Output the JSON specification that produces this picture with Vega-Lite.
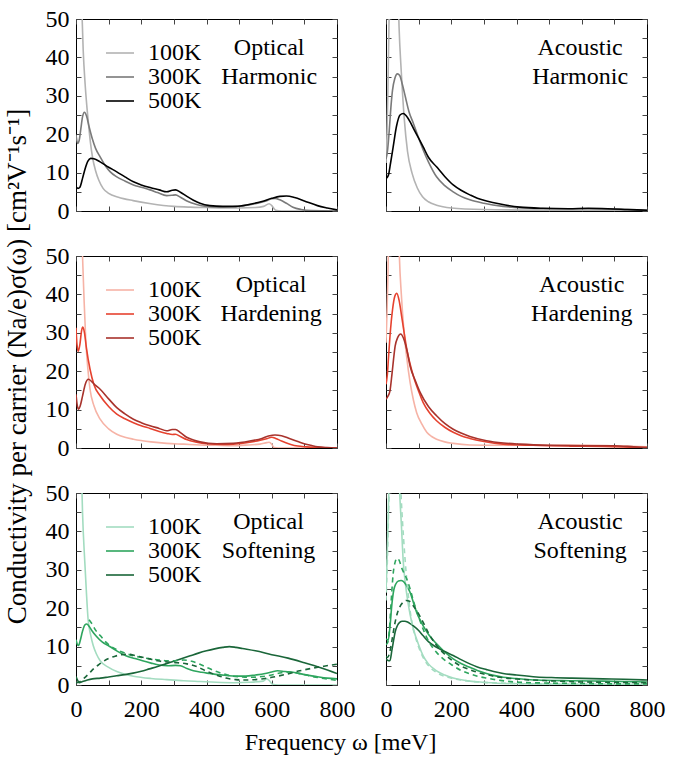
{
"$schema": "https://vega.github.io/schema/vega-lite/v6.json",
"padding": {"left": 2, "top": 6, "right": 0, "bottom": 0},
"background": "white",
"config": {
  "font": "Liberation Serif, Times New Roman, serif",
  "view": {"stroke": "#000", "strokeWidth": 1},
  "axis": {"grid": false, "domain": false, "tickSize": -5, "tickColor": "#444", "tickWidth": 1, "labelFont": "Liberation Serif, Times New Roman, serif", "labelFontSize": 24, "labelColor": "#000", "labelFlush": false, "labelOverlap": false, "titleFont": "Liberation Serif, Times New Roman, serif", "titleFontWeight": "normal", "titleColor": "#000", "titleFontSize": 24},
  "legend": {"orient": "none", "legendX": 32, "legendY": 22, "title": null, "symbolType": "M-2,0H2", "symbolSize": 196, "symbolStrokeWidth": 2, "labelFont": "Liberation Serif, Times New Roman, serif", "labelFontSize": 24, "labelColor": "#000", "labelOffset": 16, "rowPadding": 0, "padding": 0},
  "line": {"strokeWidth": 1.6, "interpolate": "monotone"},
  "text": {"font": "Liberation Serif, Times New Roman, serif", "fontSize": 24, "lineHeight": 29, "align": "center", "baseline": "alphabetic", "color": "#000"}
},
"datasets": {
"oh": [
{"T":"100K","x":0,"y":90},{"T":"100K","x":10,"y":80},{"T":"100K","x":17,"y":55},{"T":"100K","x":22,"y":42},{"T":"100K","x":28,"y":33},{"T":"100K","x":33,"y":27.5},{"T":"100K","x":38,"y":23},{"T":"100K","x":44,"y":18},{"T":"100K","x":51,"y":13.8},{"T":"100K","x":60,"y":10.5},{"T":"100K","x":70,"y":8},{"T":"100K","x":83,"y":5.9},{"T":"100K","x":100,"y":4.6},{"T":"100K","x":130,"y":3.6},{"T":"100K","x":175,"y":2.7},{"T":"100K","x":230,"y":1.9},{"T":"100K","x":300,"y":1.2},{"T":"100K","x":350,"y":1},{"T":"100K","x":400,"y":0.9},{"T":"100K","x":450,"y":0.8},{"T":"100K","x":500,"y":0.8},{"T":"100K","x":550,"y":0.9},{"T":"100K","x":575,"y":1.2},{"T":"100K","x":592,"y":1.9},{"T":"100K","x":600,"y":1.4},{"T":"100K","x":612,"y":0.2},{"T":"100K","x":630,"y":0},{"T":"100K","x":800,"y":0},
{"T":"300K","x":0,"y":19.8},{"T":"300K","x":5,"y":17.6},{"T":"300K","x":10,"y":18.5},{"T":"300K","x":15,"y":21.5},{"T":"300K","x":20,"y":24.5},{"T":"300K","x":26,"y":25.7},{"T":"300K","x":32,"y":24.8},{"T":"300K","x":40,"y":22},{"T":"300K","x":50,"y":18.8},{"T":"300K","x":60,"y":16.3},{"T":"300K","x":74,"y":14.1},{"T":"300K","x":90,"y":11.8},{"T":"300K","x":105,"y":10.2},{"T":"300K","x":125,"y":8.9},{"T":"300K","x":150,"y":7.8},{"T":"300K","x":176,"y":6.8},{"T":"300K","x":200,"y":6.2},{"T":"300K","x":227,"y":5.5},{"T":"300K","x":250,"y":4.8},{"T":"300K","x":278,"y":4},{"T":"300K","x":295,"y":4.1},{"T":"300K","x":305,"y":4.2},{"T":"300K","x":320,"y":3.6},{"T":"300K","x":340,"y":2.6},{"T":"300K","x":370,"y":1.7},{"T":"300K","x":400,"y":1.2},{"T":"300K","x":440,"y":1},{"T":"300K","x":480,"y":1.1},{"T":"300K","x":530,"y":1.6},{"T":"300K","x":560,"y":2.1},{"T":"300K","x":585,"y":2.7},{"T":"300K","x":600,"y":3.2},{"T":"300K","x":610,"y":3.3},{"T":"300K","x":625,"y":2.9},{"T":"300K","x":645,"y":2},{"T":"300K","x":665,"y":1},{"T":"300K","x":690,"y":0.4},{"T":"300K","x":720,"y":0.1},{"T":"300K","x":800,"y":0},
{"T":"500K","x":0,"y":6.3},{"T":"500K","x":6,"y":5.9},{"T":"500K","x":12,"y":6.2},{"T":"500K","x":20,"y":8.5},{"T":"500K","x":28,"y":11},{"T":"500K","x":36,"y":12.9},{"T":"500K","x":45,"y":13.7},{"T":"500K","x":55,"y":13.6},{"T":"500K","x":74,"y":12.8},{"T":"500K","x":100,"y":11.4},{"T":"500K","x":125,"y":10.2},{"T":"500K","x":150,"y":8.9},{"T":"500K","x":176,"y":7.6},{"T":"500K","x":200,"y":6.8},{"T":"500K","x":227,"y":6.1},{"T":"500K","x":255,"y":5.5},{"T":"500K","x":278,"y":5},{"T":"500K","x":295,"y":5.4},{"T":"500K","x":305,"y":5.5},{"T":"500K","x":320,"y":4.9},{"T":"500K","x":340,"y":3.8},{"T":"500K","x":360,"y":2.8},{"T":"500K","x":380,"y":2},{"T":"500K","x":410,"y":1.4},{"T":"500K","x":450,"y":1.2},{"T":"500K","x":490,"y":1.2},{"T":"500K","x":530,"y":1.7},{"T":"500K","x":570,"y":2.5},{"T":"500K","x":600,"y":3.3},{"T":"500K","x":625,"y":3.8},{"T":"500K","x":645,"y":3.9},{"T":"500K","x":670,"y":3.5},{"T":"500K","x":700,"y":2.6},{"T":"500K","x":740,"y":1.4},{"T":"500K","x":770,"y":0.8},{"T":"500K","x":800,"y":0.3}
],
"ah": [
{"T":"100K","x":0,"y":12.5},{"T":"100K","x":3,"y":20},{"T":"100K","x":6,"y":32},{"T":"100K","x":9,"y":48},{"T":"100K","x":12,"y":60},{"T":"100K","x":28,"y":80},{"T":"100K","x":36,"y":60},{"T":"100K","x":40,"y":48},{"T":"100K","x":47,"y":36},{"T":"100K","x":56,"y":24},{"T":"100K","x":66,"y":15.5},{"T":"100K","x":80,"y":9.8},{"T":"100K","x":96,"y":6},{"T":"100K","x":112,"y":3.7},{"T":"100K","x":130,"y":2.4},{"T":"100K","x":155,"y":1.5},{"T":"100K","x":200,"y":0.8},{"T":"100K","x":300,"y":0.4},{"T":"100K","x":500,"y":0.2},{"T":"100K","x":800,"y":0.1},
{"T":"300K","x":0,"y":13.5},{"T":"300K","x":5,"y":16},{"T":"300K","x":10,"y":21},{"T":"300K","x":15,"y":27},{"T":"300K","x":20,"y":31.5},{"T":"300K","x":27,"y":34.5},{"T":"300K","x":35,"y":35.7},{"T":"300K","x":42,"y":35.3},{"T":"300K","x":50,"y":33},{"T":"300K","x":60,"y":29.5},{"T":"300K","x":70,"y":26},{"T":"300K","x":84,"y":22.8},{"T":"300K","x":100,"y":19},{"T":"300K","x":114,"y":15.9},{"T":"300K","x":130,"y":12.8},{"T":"300K","x":155,"y":8.9},{"T":"300K","x":180,"y":6.6},{"T":"300K","x":206,"y":5},{"T":"300K","x":230,"y":3.8},{"T":"300K","x":257,"y":2.9},{"T":"300K","x":300,"y":2},{"T":"300K","x":359,"y":1.2},{"T":"300K","x":420,"y":0.8},{"T":"300K","x":500,"y":0.6},{"T":"300K","x":600,"y":0.6},{"T":"300K","x":700,"y":0.5},{"T":"300K","x":800,"y":0.2},
{"T":"500K","x":0,"y":8.5},{"T":"500K","x":4,"y":8.8},{"T":"500K","x":8,"y":9.5},{"T":"500K","x":14,"y":12.5},{"T":"500K","x":22,"y":16.7},{"T":"500K","x":32,"y":22},{"T":"500K","x":43,"y":25},{"T":"500K","x":53,"y":25.4},{"T":"500K","x":62,"y":24.8},{"T":"500K","x":74,"y":23.2},{"T":"500K","x":84,"y":21.5},{"T":"500K","x":100,"y":19},{"T":"500K","x":114,"y":16.7},{"T":"500K","x":130,"y":14},{"T":"500K","x":155,"y":11.5},{"T":"500K","x":180,"y":9},{"T":"500K","x":206,"y":6.8},{"T":"500K","x":230,"y":5.4},{"T":"500K","x":257,"y":4.2},{"T":"500K","x":280,"y":3.3},{"T":"500K","x":308,"y":2.6},{"T":"500K","x":350,"y":1.8},{"T":"500K","x":410,"y":1},{"T":"500K","x":480,"y":0.7},{"T":"500K","x":560,"y":0.6},{"T":"500K","x":620,"y":0.7},{"T":"500K","x":680,"y":0.6},{"T":"500K","x":740,"y":0.4},{"T":"500K","x":800,"y":0.2}
],
"od": [
{"T":"100K","x":0,"y":90},{"T":"100K","x":10,"y":75},{"T":"100K","x":20,"y":50},{"T":"100K","x":25,"y":38},{"T":"100K","x":30,"y":28},{"T":"100K","x":36,"y":21},{"T":"100K","x":43,"y":15.3},{"T":"100K","x":55,"y":11},{"T":"100K","x":74,"y":7.5},{"T":"100K","x":100,"y":5},{"T":"100K","x":125,"y":3.6},{"T":"100K","x":150,"y":2.8},{"T":"100K","x":176,"y":2.3},{"T":"100K","x":230,"y":1.6},{"T":"100K","x":278,"y":1.2},{"T":"100K","x":330,"y":1},{"T":"100K","x":380,"y":0.8},{"T":"100K","x":430,"y":0.7},{"T":"100K","x":482,"y":0.6},{"T":"100K","x":530,"y":0.8},{"T":"100K","x":564,"y":1},{"T":"100K","x":585,"y":1.4},{"T":"100K","x":592,"y":1.5},{"T":"100K","x":600,"y":1},{"T":"100K","x":607,"y":0.1},{"T":"100K","x":620,"y":0},{"T":"100K","x":800,"y":0},
{"T":"300K","x":0,"y":31.3},{"T":"300K","x":3,"y":27},{"T":"300K","x":7,"y":25.2},{"T":"300K","x":12,"y":27},{"T":"300K","x":17,"y":30.5},{"T":"300K","x":21,"y":31.5},{"T":"300K","x":26,"y":30},{"T":"300K","x":32,"y":26},{"T":"300K","x":43,"y":20.5},{"T":"300K","x":55,"y":16.5},{"T":"300K","x":74,"y":13.6},{"T":"300K","x":100,"y":10.8},{"T":"300K","x":125,"y":8.8},{"T":"300K","x":150,"y":7.6},{"T":"300K","x":176,"y":6.6},{"T":"300K","x":200,"y":5.8},{"T":"300K","x":227,"y":5.1},{"T":"300K","x":255,"y":4.3},{"T":"300K","x":278,"y":3.8},{"T":"300K","x":295,"y":3.5},{"T":"300K","x":305,"y":3.6},{"T":"300K","x":320,"y":3},{"T":"300K","x":339,"y":2.2},{"T":"300K","x":370,"y":1.5},{"T":"300K","x":400,"y":1.1},{"T":"300K","x":450,"y":0.9},{"T":"300K","x":482,"y":1},{"T":"300K","x":533,"y":1.5},{"T":"300K","x":565,"y":2},{"T":"300K","x":584,"y":2.4},{"T":"300K","x":600,"y":2.8},{"T":"300K","x":612,"y":2.5},{"T":"300K","x":630,"y":1.8},{"T":"300K","x":656,"y":1},{"T":"300K","x":680,"y":0.5},{"T":"300K","x":707,"y":0.3},{"T":"300K","x":750,"y":0.1},{"T":"300K","x":800,"y":0},
{"T":"500K","x":0,"y":14},{"T":"500K","x":4,"y":11},{"T":"500K","x":8,"y":10.1},{"T":"500K","x":13,"y":11},{"T":"500K","x":20,"y":13.5},{"T":"500K","x":28,"y":16.5},{"T":"500K","x":38,"y":17.9},{"T":"500K","x":48,"y":17.3},{"T":"500K","x":60,"y":16.3},{"T":"500K","x":74,"y":15.3},{"T":"500K","x":100,"y":12.8},{"T":"500K","x":125,"y":10.5},{"T":"500K","x":150,"y":8.9},{"T":"500K","x":176,"y":7.5},{"T":"500K","x":200,"y":6.6},{"T":"500K","x":227,"y":5.8},{"T":"500K","x":255,"y":5.1},{"T":"500K","x":278,"y":4.5},{"T":"500K","x":295,"y":4.8},{"T":"500K","x":305,"y":4.8},{"T":"500K","x":320,"y":4},{"T":"500K","x":339,"y":2.8},{"T":"500K","x":360,"y":2.1},{"T":"500K","x":380,"y":1.6},{"T":"500K","x":431,"y":1.1},{"T":"500K","x":482,"y":1.2},{"T":"500K","x":533,"y":1.8},{"T":"500K","x":570,"y":2.5},{"T":"500K","x":590,"y":3.1},{"T":"500K","x":610,"y":3.4},{"T":"500K","x":630,"y":3.2},{"T":"500K","x":656,"y":2.4},{"T":"500K","x":680,"y":1.7},{"T":"500K","x":697,"y":1.2},{"T":"500K","x":720,"y":0.7},{"T":"500K","x":741,"y":0.3},{"T":"500K","x":770,"y":0.1},{"T":"500K","x":800,"y":0}
],
"ad": [
{"T":"100K","x":0,"y":27.4},{"T":"100K","x":3,"y":35},{"T":"100K","x":6,"y":45},{"T":"100K","x":9,"y":60},{"T":"100K","x":30,"y":90},{"T":"100K","x":38,"y":60},{"T":"100K","x":41,"y":50},{"T":"100K","x":47,"y":40},{"T":"100K","x":53,"y":32.6},{"T":"100K","x":63,"y":24},{"T":"100K","x":74,"y":17},{"T":"100K","x":84,"y":12.5},{"T":"100K","x":94,"y":9.2},{"T":"100K","x":110,"y":6.2},{"T":"100K","x":125,"y":4.1},{"T":"100K","x":140,"y":3},{"T":"100K","x":155,"y":2.3},{"T":"100K","x":180,"y":1.6},{"T":"100K","x":206,"y":1.2},{"T":"100K","x":257,"y":0.8},{"T":"100K","x":350,"y":0.7},{"T":"100K","x":500,"y":0.7},{"T":"100K","x":600,"y":0.8},{"T":"100K","x":700,"y":0.6},{"T":"100K","x":800,"y":0.3},
{"T":"300K","x":0,"y":16.6},{"T":"300K","x":4,"y":19},{"T":"300K","x":8,"y":24},{"T":"300K","x":14,"y":31},{"T":"300K","x":20,"y":36},{"T":"300K","x":27,"y":39.5},{"T":"300K","x":33,"y":40.3},{"T":"300K","x":40,"y":38.5},{"T":"300K","x":48,"y":34.3},{"T":"300K","x":56,"y":29.8},{"T":"300K","x":64,"y":25.6},{"T":"300K","x":74,"y":21.8},{"T":"300K","x":84,"y":18.7},{"T":"300K","x":100,"y":14.8},{"T":"300K","x":114,"y":11.8},{"T":"300K","x":135,"y":9},{"T":"300K","x":155,"y":7.1},{"T":"300K","x":180,"y":5.4},{"T":"300K","x":206,"y":4.1},{"T":"300K","x":230,"y":3.2},{"T":"300K","x":257,"y":2.5},{"T":"300K","x":300,"y":1.7},{"T":"300K","x":359,"y":1},{"T":"300K","x":450,"y":0.7},{"T":"300K","x":563,"y":0.5},{"T":"300K","x":665,"y":0.4},{"T":"300K","x":800,"y":0.1},
{"T":"500K","x":0,"y":12.7},{"T":"500K","x":6,"y":13.5},{"T":"500K","x":12,"y":14.8},{"T":"500K","x":18,"y":19},{"T":"500K","x":23,"y":23},{"T":"500K","x":28,"y":26.5},{"T":"500K","x":36,"y":28.8},{"T":"500K","x":45,"y":29.7},{"T":"500K","x":54,"y":28.5},{"T":"500K","x":64,"y":25.5},{"T":"500K","x":74,"y":21.3},{"T":"500K","x":90,"y":17.5},{"T":"500K","x":105,"y":14.4},{"T":"500K","x":130,"y":10.8},{"T":"500K","x":155,"y":8.4},{"T":"500K","x":180,"y":6.4},{"T":"500K","x":206,"y":4.9},{"T":"500K","x":230,"y":3.9},{"T":"500K","x":257,"y":3},{"T":"500K","x":308,"y":1.9},{"T":"500K","x":360,"y":1.3},{"T":"500K","x":410,"y":1},{"T":"500K","x":500,"y":0.7},{"T":"500K","x":600,"y":0.6},{"T":"500K","x":700,"y":0.6},{"T":"500K","x":760,"y":0.3},{"T":"500K","x":800,"y":0.1}
],
"os": [
{"T":"100K","x":0,"y":90},{"T":"100K","x":10,"y":75},{"T":"100K","x":17,"y":55},{"T":"100K","x":20,"y":45},{"T":"100K","x":27,"y":32},{"T":"100K","x":32,"y":24},{"T":"100K","x":37,"y":17.2},{"T":"100K","x":45,"y":13},{"T":"100K","x":53,"y":10.2},{"T":"100K","x":63,"y":8},{"T":"100K","x":74,"y":6.3},{"T":"100K","x":100,"y":4.6},{"T":"100K","x":125,"y":3.5},{"T":"100K","x":150,"y":2.8},{"T":"100K","x":176,"y":2.3},{"T":"100K","x":230,"y":1.7},{"T":"100K","x":278,"y":1.4},{"T":"100K","x":330,"y":1.1},{"T":"100K","x":380,"y":0.9},{"T":"100K","x":430,"y":0.7},{"T":"100K","x":482,"y":0.6},{"T":"100K","x":530,"y":0.7},{"T":"100K","x":574,"y":1},{"T":"100K","x":584,"y":1.6},{"T":"100K","x":592,"y":1.2},{"T":"100K","x":602,"y":0.2},{"T":"100K","x":620,"y":0},{"T":"100K","x":800,"y":0},
{"T":"300K","x":0,"y":11.8},{"T":"300K","x":4,"y":10.6},{"T":"300K","x":8,"y":10.3},{"T":"300K","x":13,"y":11.6},{"T":"300K","x":20,"y":14},{"T":"300K","x":27,"y":15.6},{"T":"300K","x":33,"y":15.9},{"T":"300K","x":40,"y":15.3},{"T":"300K","x":50,"y":14},{"T":"300K","x":61,"y":12.8},{"T":"300K","x":80,"y":11.2},{"T":"300K","x":102,"y":10.1},{"T":"300K","x":125,"y":8.9},{"T":"300K","x":153,"y":7.6},{"T":"300K","x":180,"y":6.9},{"T":"300K","x":204,"y":6.3},{"T":"300K","x":230,"y":5.7},{"T":"300K","x":255,"y":5.2},{"T":"300K","x":280,"y":5},{"T":"300K","x":305,"y":5.1},{"T":"300K","x":320,"y":5},{"T":"300K","x":340,"y":4.3},{"T":"300K","x":360,"y":3.7},{"T":"300K","x":385,"y":3.3},{"T":"300K","x":410,"y":3},{"T":"300K","x":435,"y":2.7},{"T":"300K","x":460,"y":2.5},{"T":"300K","x":490,"y":2.3},{"T":"300K","x":520,"y":2.3},{"T":"300K","x":550,"y":2.6},{"T":"300K","x":580,"y":3},{"T":"300K","x":600,"y":3.4},{"T":"300K","x":618,"y":3.7},{"T":"300K","x":640,"y":3.5},{"T":"300K","x":665,"y":3.3},{"T":"300K","x":700,"y":2.7},{"T":"300K","x":737,"y":2.2},{"T":"300K","x":770,"y":1.8},{"T":"300K","x":800,"y":1.6},
{"T":"500K","x":0,"y":2.2},{"T":"500K","x":5,"y":1.2},{"T":"500K","x":10,"y":0.6},{"T":"500K","x":20,"y":0.9},{"T":"500K","x":35,"y":1.3},{"T":"500K","x":50,"y":1.6},{"T":"500K","x":75,"y":1.8},{"T":"500K","x":100,"y":2.1},{"T":"500K","x":125,"y":2.4},{"T":"500K","x":150,"y":2.7},{"T":"500K","x":175,"y":3.1},{"T":"500K","x":200,"y":3.6},{"T":"500K","x":225,"y":4.2},{"T":"500K","x":250,"y":4.8},{"T":"500K","x":275,"y":5.5},{"T":"500K","x":300,"y":6.2},{"T":"500K","x":325,"y":6.9},{"T":"500K","x":350,"y":7.6},{"T":"500K","x":375,"y":8.3},{"T":"500K","x":400,"y":8.9},{"T":"500K","x":425,"y":9.4},{"T":"500K","x":450,"y":9.8},{"T":"500K","x":470,"y":10},{"T":"500K","x":490,"y":9.8},{"T":"500K","x":510,"y":9.5},{"T":"500K","x":550,"y":8.9},{"T":"500K","x":600,"y":7.9},{"T":"500K","x":650,"y":7},{"T":"500K","x":700,"y":5.8},{"T":"500K","x":750,"y":4.5},{"T":"500K","x":800,"y":3}
],
"osd": [
{"T":"300K","x":40,"y":17},{"T":"300K","x":50,"y":15.8},{"T":"300K","x":60,"y":14.3},{"T":"300K","x":75,"y":12.8},{"T":"300K","x":90,"y":11.3},{"T":"300K","x":105,"y":10.2},{"T":"300K","x":125,"y":9.2},{"T":"300K","x":150,"y":8.3},{"T":"300K","x":176,"y":7.6},{"T":"300K","x":200,"y":7.2},{"T":"300K","x":227,"y":6.8},{"T":"300K","x":255,"y":6.5},{"T":"300K","x":278,"y":6.3},{"T":"300K","x":300,"y":6.3},{"T":"300K","x":330,"y":6.5},{"T":"300K","x":355,"y":6.2},{"T":"300K","x":380,"y":5.4},{"T":"300K","x":405,"y":4.4},{"T":"300K","x":431,"y":3.5},{"T":"300K","x":460,"y":2.7},{"T":"300K","x":482,"y":2.3},{"T":"300K","x":510,"y":2.1},{"T":"300K","x":540,"y":2},{"T":"300K","x":570,"y":2.2},{"T":"300K","x":600,"y":2.6},{"T":"300K","x":630,"y":3.2},{"T":"300K","x":655,"y":3.4},{"T":"300K","x":680,"y":3.1},{"T":"300K","x":720,"y":2.3},{"T":"300K","x":760,"y":1.7},{"T":"300K","x":800,"y":1.2},
{"T":"500K","x":0,"y":0.6},{"T":"500K","x":10,"y":0.8},{"T":"500K","x":25,"y":1.8},{"T":"500K","x":40,"y":3},{"T":"500K","x":55,"y":4.3},{"T":"500K","x":70,"y":5.3},{"T":"500K","x":85,"y":6.2},{"T":"500K","x":100,"y":6.9},{"T":"500K","x":120,"y":7.5},{"T":"500K","x":140,"y":7.9},{"T":"500K","x":160,"y":8},{"T":"500K","x":180,"y":7.7},{"T":"500K","x":200,"y":7.3},{"T":"500K","x":225,"y":6.8},{"T":"500K","x":250,"y":6.3},{"T":"500K","x":280,"y":6},{"T":"500K","x":310,"y":5.8},{"T":"500K","x":340,"y":5.5},{"T":"500K","x":370,"y":4.8},{"T":"500K","x":400,"y":3.6},{"T":"500K","x":430,"y":2.6},{"T":"500K","x":460,"y":1.8},{"T":"500K","x":490,"y":1.4},{"T":"500K","x":520,"y":1.3},{"T":"500K","x":560,"y":1.5},{"T":"500K","x":600,"y":2},{"T":"500K","x":640,"y":2.7},{"T":"500K","x":686,"y":3.7},{"T":"500K","x":720,"y":4.3},{"T":"500K","x":760,"y":4.9},{"T":"500K","x":800,"y":5.4}
],
"as": [
{"T":"100K","x":0,"y":24},{"T":"100K","x":3,"y":32},{"T":"100K","x":6,"y":42},{"T":"100K","x":10,"y":55},{"T":"100K","x":25,"y":90},{"T":"100K","x":38,"y":60},{"T":"100K","x":42,"y":50},{"T":"100K","x":47,"y":42},{"T":"100K","x":53,"y":32},{"T":"100K","x":60,"y":26},{"T":"100K","x":69,"y":20.7},{"T":"100K","x":76,"y":17.5},{"T":"100K","x":84,"y":14.6},{"T":"100K","x":100,"y":10.5},{"T":"100K","x":114,"y":7.6},{"T":"100K","x":130,"y":5.5},{"T":"100K","x":155,"y":3.7},{"T":"100K","x":180,"y":2.6},{"T":"100K","x":206,"y":1.8},{"T":"100K","x":257,"y":1},{"T":"100K","x":300,"y":0.7},{"T":"100K","x":359,"y":0.4},{"T":"100K","x":450,"y":0.3},{"T":"100K","x":600,"y":0.2},{"T":"100K","x":800,"y":0.1},
{"T":"300K","x":0,"y":12},{"T":"300K","x":4,"y":11.8},{"T":"300K","x":7,"y":11.7},{"T":"300K","x":12,"y":15},{"T":"300K","x":18,"y":21},{"T":"300K","x":24,"y":24.8},{"T":"300K","x":30,"y":26.3},{"T":"300K","x":38,"y":27.1},{"T":"300K","x":46,"y":27.2},{"T":"300K","x":53,"y":27},{"T":"300K","x":62,"y":26},{"T":"300K","x":74,"y":24.1},{"T":"300K","x":84,"y":21.5},{"T":"300K","x":94,"y":18.9},{"T":"300K","x":104,"y":17},{"T":"300K","x":114,"y":15.4},{"T":"300K","x":130,"y":13.2},{"T":"300K","x":155,"y":10.7},{"T":"300K","x":180,"y":8.6},{"T":"300K","x":206,"y":6.8},{"T":"300K","x":230,"y":5.6},{"T":"300K","x":257,"y":4.6},{"T":"300K","x":280,"y":3.8},{"T":"300K","x":308,"y":3},{"T":"300K","x":330,"y":2.5},{"T":"300K","x":359,"y":2},{"T":"300K","x":400,"y":1.7},{"T":"300K","x":461,"y":1.3},{"T":"300K","x":563,"y":1.1},{"T":"300K","x":665,"y":1},{"T":"300K","x":800,"y":0.8},
{"T":"500K","x":0,"y":6.8},{"T":"500K","x":6,"y":6.4},{"T":"500K","x":12,"y":6.3},{"T":"500K","x":18,"y":9},{"T":"500K","x":23,"y":11.5},{"T":"500K","x":28,"y":13.8},{"T":"500K","x":35,"y":15.5},{"T":"500K","x":42,"y":16.3},{"T":"500K","x":50,"y":16.6},{"T":"500K","x":58,"y":16.6},{"T":"500K","x":66,"y":16.4},{"T":"500K","x":74,"y":16},{"T":"500K","x":84,"y":15.4},{"T":"500K","x":100,"y":14.2},{"T":"500K","x":114,"y":12.8},{"T":"500K","x":130,"y":11.3},{"T":"500K","x":155,"y":9.8},{"T":"500K","x":180,"y":8.7},{"T":"500K","x":206,"y":7.7},{"T":"500K","x":230,"y":6.6},{"T":"500K","x":257,"y":5.5},{"T":"500K","x":280,"y":4.7},{"T":"500K","x":308,"y":4},{"T":"500K","x":330,"y":3.5},{"T":"500K","x":359,"y":3},{"T":"500K","x":400,"y":2.6},{"T":"500K","x":461,"y":2.1},{"T":"500K","x":520,"y":1.9},{"T":"500K","x":563,"y":1.8},{"T":"500K","x":665,"y":1.6},{"T":"500K","x":730,"y":1.5},{"T":"500K","x":800,"y":1.3}
],
"asd": [
{"T":"100K","x":0,"y":22},{"T":"100K","x":4,"y":32},{"T":"100K","x":8,"y":45},{"T":"100K","x":12,"y":58},{"T":"100K","x":30,"y":85},{"T":"100K","x":42,"y":58},{"T":"100K","x":47,"y":48},{"T":"100K","x":54,"y":38},{"T":"100K","x":62,"y":29},{"T":"100K","x":70,"y":22},{"T":"100K","x":80,"y":16},{"T":"100K","x":92,"y":12},{"T":"100K","x":105,"y":8.8},{"T":"100K","x":120,"y":6.2},{"T":"100K","x":140,"y":4.2},{"T":"100K","x":160,"y":3},{"T":"100K","x":190,"y":2},{"T":"100K","x":230,"y":1.3},{"T":"100K","x":280,"y":0.8},{"T":"100K","x":350,"y":0.5},{"T":"100K","x":450,"y":0.3},{"T":"100K","x":600,"y":0.2},{"T":"100K","x":800,"y":0.1},
{"T":"300K","x":0,"y":10.5},{"T":"300K","x":5,"y":11},{"T":"300K","x":10,"y":14},{"T":"300K","x":16,"y":22},{"T":"300K","x":22,"y":29},{"T":"300K","x":28,"y":32},{"T":"300K","x":34,"y":33},{"T":"300K","x":40,"y":32.5},{"T":"300K","x":48,"y":30.5},{"T":"300K","x":56,"y":29},{"T":"300K","x":64,"y":27.5},{"T":"300K","x":74,"y":25},{"T":"300K","x":84,"y":21.9},{"T":"300K","x":100,"y":17.8},{"T":"300K","x":114,"y":14.5},{"T":"300K","x":130,"y":11.5},{"T":"300K","x":155,"y":8.5},{"T":"300K","x":180,"y":6.5},{"T":"300K","x":206,"y":5},{"T":"300K","x":230,"y":3.8},{"T":"300K","x":257,"y":2.9},{"T":"300K","x":280,"y":2.3},{"T":"300K","x":308,"y":1.8},{"T":"300K","x":350,"y":1.2},{"T":"300K","x":410,"y":0.7},{"T":"300K","x":500,"y":0.5},{"T":"300K","x":600,"y":0.4},{"T":"300K","x":700,"y":0.3},{"T":"300K","x":800,"y":0.3},
{"T":"500K","x":0,"y":7.5},{"T":"500K","x":5,"y":7.2},{"T":"500K","x":10,"y":8},{"T":"500K","x":18,"y":11.5},{"T":"500K","x":26,"y":15.5},{"T":"500K","x":34,"y":18.5},{"T":"500K","x":42,"y":20.3},{"T":"500K","x":52,"y":21.5},{"T":"500K","x":62,"y":22},{"T":"500K","x":72,"y":21.8},{"T":"500K","x":84,"y":20.6},{"T":"500K","x":100,"y":18.5},{"T":"500K","x":114,"y":16.3},{"T":"500K","x":130,"y":13.6},{"T":"500K","x":155,"y":10.3},{"T":"500K","x":180,"y":8},{"T":"500K","x":206,"y":6.2},{"T":"500K","x":230,"y":4.9},{"T":"500K","x":257,"y":4},{"T":"500K","x":280,"y":3.3},{"T":"500K","x":308,"y":2.7},{"T":"500K","x":350,"y":2},{"T":"500K","x":410,"y":1.5},{"T":"500K","x":500,"y":1.1},{"T":"500K","x":600,"y":0.8},{"T":"500K","x":700,"y":0.7},{"T":"500K","x":800,"y":0.6}
]
},
"columns": 2,
"spacing": {"row": 45, "column": 49},
"bounds": "flush",
"resolve": {"scale": {"color": "independent"}},
"concat": [
{
 "width": 261, "height": 192,
 "layer": [
  {"data": {"name": "oh"}, "mark": {"type": "line", "clip": true},
   "encoding": {
    "x": {"field": "x", "type": "quantitative", "scale": {"domain": [0, 800]}, "axis": {"orient": "bottom", "values": [0,100,200,300,400,500,600,700,800], "labels": false, "title": null}},
    "y": {"field": "y", "type": "quantitative", "scale": {"domain": [0, 50]}, "axis": {"orient": "left", "values": [0,5,10,15,20,25,30,35,40,45,50], "labelExpr": "datum.value % 10 === 0 ? datum.label : ''", "labelPadding": 12, "title": null}},
    "color": {"field": "T", "type": "nominal", "scale": {"domain": ["100K","300K","500K"], "range": ["#b3b3b3","#7a7a7a","#000000"]}}
   }},
  {"data": {"values": [{}]}, "mark": {"type": "text", "text": ["Optical", "Harmonic"]},
   "encoding": {
    "x": {"datum": 592, "type": "quantitative", "axis": {"orient": "top", "values": [0,100,200,300,400,500,600,700,800], "labels": false, "title": null}},
    "y": {"datum": 40.5, "type": "quantitative", "axis": {"orient": "right", "values": [0,5,10,15,20,25,30,35,40,45,50], "labels": false, "title": null}}
   }}
 ],
 "resolve": {"axis": {"x": "independent", "y": "independent"}}
},
{
 "width": 261, "height": 192,
 "layer": [
  {"data": {"name": "ah"}, "mark": {"type": "line", "clip": true},
   "encoding": {
    "x": {"field": "x", "type": "quantitative", "scale": {"domain": [0, 800]}, "axis": {"orient": "bottom", "values": [0,100,200,300,400,500,600,700,800], "labels": false, "title": null}},
    "y": {"field": "y", "type": "quantitative", "scale": {"domain": [0, 50]}, "axis": {"orient": "left", "values": [0,5,10,15,20,25,30,35,40,45,50], "labels": false, "title": null}},
    "color": {"field": "T", "type": "nominal", "scale": {"domain": ["100K","300K","500K"], "range": ["#b3b3b3","#7a7a7a","#000000"]}, "legend": null}
   }},
  {"data": {"values": [{}]}, "mark": {"type": "text", "text": ["Acoustic", "Harmonic"]},
   "encoding": {
    "x": {"datum": 595, "type": "quantitative", "axis": {"orient": "top", "values": [0,100,200,300,400,500,600,700,800], "labels": false, "title": null}},
    "y": {"datum": 40.5, "type": "quantitative", "axis": {"orient": "right", "values": [0,5,10,15,20,25,30,35,40,45,50], "labels": false, "title": null}}
   }}
 ],
 "resolve": {"axis": {"x": "independent", "y": "independent"}}
},
{
 "width": 261, "height": 192,
 "layer": [
  {"data": {"name": "od"}, "mark": {"type": "line", "clip": true},
   "encoding": {
    "x": {"field": "x", "type": "quantitative", "scale": {"domain": [0, 800]}, "axis": {"orient": "bottom", "values": [0,100,200,300,400,500,600,700,800], "labels": false, "title": null}},
    "y": {"field": "y", "type": "quantitative", "scale": {"domain": [0, 50]}, "axis": {"orient": "left", "values": [0,5,10,15,20,25,30,35,40,45,50], "labelExpr": "datum.value % 10 === 0 ? datum.label : ''", "labelPadding": 12, "title": "Conductivity per carrier (Na/e)σ(ω) [cm²V⁻¹s⁻¹]", "titleFontSize": 27, "titleX": -51, "titleY": 110, "titleAlign": "center", "titleBaseline": "alphabetic", "titleAngle": 270}},
    "color": {"field": "T", "type": "nominal", "scale": {"domain": ["100K","300K","500K"], "range": ["#f6b3a6","#e6422f","#a8332c"]}}
   }},
  {"data": {"values": [{}]}, "mark": {"type": "text", "text": ["Optical", "Hardening"]},
   "encoding": {
    "x": {"datum": 598, "type": "quantitative", "axis": {"orient": "top", "values": [0,100,200,300,400,500,600,700,800], "labels": false, "title": null}},
    "y": {"datum": 40.5, "type": "quantitative", "axis": {"orient": "right", "values": [0,5,10,15,20,25,30,35,40,45,50], "labels": false, "title": null}}
   }}
 ],
 "resolve": {"axis": {"x": "independent", "y": "independent"}}
},
{
 "width": 261, "height": 192,
 "layer": [
  {"data": {"name": "ad"}, "mark": {"type": "line", "clip": true},
   "encoding": {
    "x": {"field": "x", "type": "quantitative", "scale": {"domain": [0, 800]}, "axis": {"orient": "bottom", "values": [0,100,200,300,400,500,600,700,800], "labels": false, "title": null}},
    "y": {"field": "y", "type": "quantitative", "scale": {"domain": [0, 50]}, "axis": {"orient": "left", "values": [0,5,10,15,20,25,30,35,40,45,50], "labels": false, "title": null}},
    "color": {"field": "T", "type": "nominal", "scale": {"domain": ["100K","300K","500K"], "range": ["#f6b3a6","#e6422f","#a8332c"]}, "legend": null}
   }},
  {"data": {"values": [{}]}, "mark": {"type": "text", "text": ["Acoustic", "Hardening"]},
   "encoding": {
    "x": {"datum": 600, "type": "quantitative", "axis": {"orient": "top", "values": [0,100,200,300,400,500,600,700,800], "labels": false, "title": null}},
    "y": {"datum": 40.5, "type": "quantitative", "axis": {"orient": "right", "values": [0,5,10,15,20,25,30,35,40,45,50], "labels": false, "title": null}}
   }}
 ],
 "resolve": {"axis": {"x": "independent", "y": "independent"}}
},
{
 "width": 261, "height": 192,
 "layer": [
  {"data": {"name": "os"}, "mark": {"type": "line", "clip": true},
   "encoding": {
    "x": {"field": "x", "type": "quantitative", "scale": {"domain": [0, 800]}, "axis": {"orient": "bottom", "values": [0,100,200,300,400,500,600,700,800], "labelExpr": "datum.value % 200 === 0 ? datum.label : ''", "labelPadding": 17, "title": "Frequency ω [meV]", "titleX": 264, "titleY": 64, "titleAlign": "center", "titleBaseline": "alphabetic"}},
    "y": {"field": "y", "type": "quantitative", "scale": {"domain": [0, 50]}, "axis": {"orient": "left", "values": [0,5,10,15,20,25,30,35,40,45,50], "labelExpr": "datum.value % 10 === 0 ? datum.label : ''", "labelPadding": 12, "title": null}},
    "color": {"field": "T", "type": "nominal", "scale": {"domain": ["100K","300K","500K"], "range": ["#a3dcc0","#2ea55e","#1a6639"]}}
   }},
  {"data": {"name": "osd"}, "mark": {"type": "line", "clip": true, "strokeDash": [5, 4]},
   "encoding": {
    "x": {"field": "x", "type": "quantitative", "axis": null},
    "y": {"field": "y", "type": "quantitative", "axis": null},
    "color": {"field": "T", "type": "nominal"}
   }},
  {"data": {"values": [{}]}, "mark": {"type": "text", "text": ["Optical", "Softening"]},
   "encoding": {
    "x": {"datum": 590, "type": "quantitative", "axis": {"orient": "top", "values": [0,100,200,300,400,500,600,700,800], "labels": false, "title": null}},
    "y": {"datum": 40.5, "type": "quantitative", "axis": {"orient": "right", "values": [0,5,10,15,20,25,30,35,40,45,50], "labels": false, "title": null}}
   }}
 ],
 "resolve": {"axis": {"x": "independent", "y": "independent"}}
},
{
 "width": 261, "height": 192,
 "layer": [
  {"data": {"name": "as"}, "mark": {"type": "line", "clip": true},
   "encoding": {
    "x": {"field": "x", "type": "quantitative", "scale": {"domain": [0, 800]}, "axis": {"orient": "bottom", "values": [0,100,200,300,400,500,600,700,800], "labelExpr": "datum.value % 200 === 0 ? datum.label : ''", "labelPadding": 17, "title": null}},
    "y": {"field": "y", "type": "quantitative", "scale": {"domain": [0, 50]}, "axis": {"orient": "left", "values": [0,5,10,15,20,25,30,35,40,45,50], "labels": false, "title": null}},
    "color": {"field": "T", "type": "nominal", "scale": {"domain": ["100K","300K","500K"], "range": ["#a3dcc0","#2ea55e","#1a6639"]}, "legend": null}
   }},
  {"data": {"name": "asd"}, "mark": {"type": "line", "clip": true, "strokeDash": [5, 4]},
   "encoding": {
    "x": {"field": "x", "type": "quantitative", "axis": null},
    "y": {"field": "y", "type": "quantitative", "axis": null},
    "color": {"field": "T", "type": "nominal", "legend": null}
   }},
  {"data": {"values": [{}]}, "mark": {"type": "text", "text": ["Acoustic", "Softening"]},
   "encoding": {
    "x": {"datum": 595, "type": "quantitative", "axis": {"orient": "top", "values": [0,100,200,300,400,500,600,700,800], "labels": false, "title": null}},
    "y": {"datum": 40.5, "type": "quantitative", "axis": {"orient": "right", "values": [0,5,10,15,20,25,30,35,40,45,50], "labels": false, "title": null}}
   }}
 ],
 "resolve": {"axis": {"x": "independent", "y": "independent"}}
}
]
}
